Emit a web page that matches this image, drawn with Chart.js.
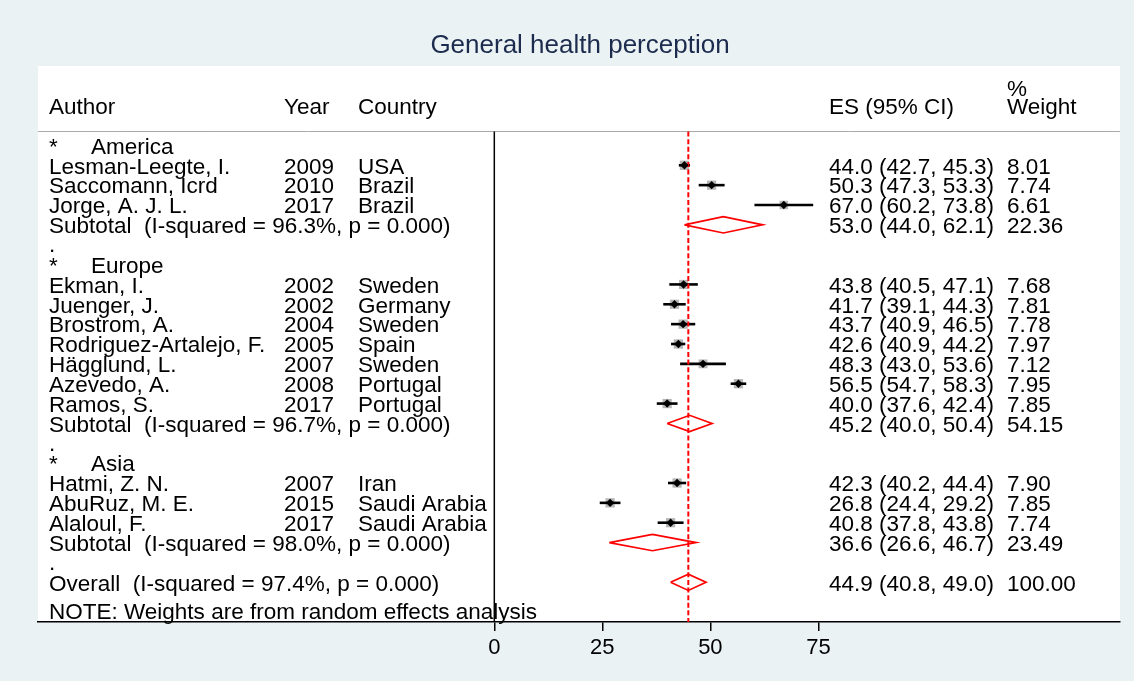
<!DOCTYPE html>
<html><head><meta charset="utf-8">
<script src="https://cdn.jsdelivr.net/npm/chart.js@4.4.1/dist/chart.umd.min.js"></script>
<style>html,body{margin:0;padding:0;background:#eaf2f3;} canvas{display:block}</style>
</head><body>
<canvas id="c" width="1134" height="681"></canvas>
<script>
// ---------- data ----------
const titleText = 'General health perception';
const regions = ['America', 'Europe', 'Asia'];
const authors = ['Lesman-Leegte, I.', 'Saccomann, Icrd', 'Jorge, A. J. L.',
  'Ekman, I.', 'Juenger, J.', 'Brostrom, A.', 'Rodriguez-Artalejo, F.', 'Hägglund, L.', 'Azevedo, A.', 'Ramos, S.',
  'Hatmi, Z. N.', 'AbuRuz, M. E.', 'Alaloul, F.'];
const years = [2009, 2010, 2017, 2002, 2002, 2004, 2005, 2007, 2008, 2017, 2007, 2015, 2017];
const countries = ['USA', 'Brazil', 'Brazil', 'Sweden', 'Germany', 'Sweden', 'Spain', 'Sweden', 'Portugal', 'Portugal',
  'Iran', 'Saudi Arabia', 'Saudi Arabia'];
const regionOf = [0, 0, 0, 1, 1, 1, 1, 1, 1, 1, 2, 2, 2];
const es = [44.0, 50.3, 67.0, 43.8, 41.7, 43.7, 42.6, 48.3, 56.5, 40.0, 42.3, 26.8, 40.8];
const lo = [42.7, 47.3, 60.2, 40.5, 39.1, 40.9, 40.9, 43.0, 54.7, 37.6, 40.2, 24.4, 37.8];
const hi = [45.3, 53.3, 73.8, 47.1, 44.3, 46.5, 44.2, 53.6, 58.3, 42.4, 44.4, 29.2, 43.8];
const weights = [8.01, 7.74, 6.61, 7.68, 7.81, 7.78, 7.97, 7.12, 7.95, 7.85, 7.90, 7.85, 7.74];
const subES = [53.0, 45.2, 36.6];
const subLo = [44.0, 40.0, 26.6];
const subHi = [62.1, 50.4, 46.7];
const subW = [22.36, 54.15, 23.49];
const subI2 = ['96.3', '96.7', '98.0'];
const overallES = 44.9, overallLo = 40.8, overallHi = 49.0, overallW = 100.00, overallI2 = '97.4';
const xTicks = [0, 25, 50, 75];

// ---------- row layout ----------
const rows = [];
let r = 0;
regions.forEach((reg, g) => {
  rows.push({ kind: 'head', row: r++, label: reg });
  regionOf.forEach((rg, i) => { if (rg === g) rows.push({ kind: 'study', row: r++, i }); });
  rows.push({ kind: 'sub', row: r++, g });
  rows.push({ kind: 'dot', row: r++ });
});
const overallRow = r;

const XMIN = -105.6, XMAX = 144.8, YMIN = -4, YMAX = 24, SEP = -0.7, DH = 0.41;
const studyRow = {};
rows.forEach(o => { if (o.kind === 'study') studyRow[o.i] = o.row; });
const subRow = {};
rows.forEach(o => { if (o.kind === 'sub') subRow[o.g] = o.row; });

const datasets = [];
// weight squares
datasets.push({
  type: 'scatter', order: 5,
  data: es.map((v, i) => ({ x: v, y: studyRow[i] })),
  pointStyle: 'rect',
  pointRadius: weights.map(w => 3.3 * Math.sqrt(w) / 1.414),
  pointBackgroundColor: '#b6b6b6', pointBorderWidth: 0, borderWidth: 0, showLine: false
});
// CI lines
es.forEach((v, i) => {
  datasets.push({
    type: 'line', order: 3,
    data: [{ x: lo[i], y: studyRow[i] }, { x: hi[i], y: studyRow[i] }],
    borderColor: '#000', borderWidth: 2.6, pointRadius: 0, fill: false
  });
});
// point estimates
datasets.push({
  type: 'scatter', order: 1,
  data: es.map((v, i) => ({ x: v, y: studyRow[i] })),
  pointStyle: 'rectRot', pointRadius: 4.2, pointBackgroundColor: '#000', pointBorderWidth: 0, showLine: false
});
// pooled diamonds
const diamond = (e, l, h, y) => [{ x: l, y }, { x: e, y: y - DH }, { x: h, y }, { x: e, y: y + DH }, { x: l, y }];
subES.forEach((v, g) => {
  datasets.push({
    type: 'line', order: 0, data: diamond(v, subLo[g], subHi[g], subRow[g]),
    borderColor: '#ff0000', borderWidth: 1.7, pointRadius: 0, fill: false, tension: 0
  });
});
datasets.push({
  type: 'line', order: 0, data: diamond(overallES, overallLo, overallHi, overallRow),
  borderColor: '#ff0000', borderWidth: 1.7, pointRadius: 0, fill: false, tension: 0
});
// reference lines
datasets.push({
  type: 'line', order: 2, data: [{ x: overallES, y: SEP }, { x: overallES, y: YMAX }],
  borderColor: '#ff0000', borderWidth: 2, borderDash: [5, 2.6], pointRadius: 0, fill: false
});
datasets.push({
  type: 'line', order: 6, data: [{ x: 0, y: SEP }, { x: 0, y: YMAX }],
  borderColor: '#000', borderWidth: 1.5, pointRadius: 0, fill: false
});
datasets.push({
  type: 'line', order: 7, data: [{ x: XMIN, y: SEP }, { x: XMAX, y: SEP }],
  borderColor: '#a9a9a9', borderWidth: 1, pointRadius: 0, fill: false
});

const FONT = '"Liberation Sans", Arial, sans-serif';
const bgPlugin = {
  id: 'bg',
  beforeDraw(chart) {
    const { ctx, chartArea: a } = chart;
    ctx.save();
    ctx.fillStyle = '#eaf2f3';
    ctx.fillRect(0, 0, chart.width, chart.height);
    ctx.fillStyle = '#ffffff';
    ctx.fillRect(a.left, a.top, a.right - a.left, a.bottom - a.top);
    ctx.restore();
  }
};
const textPlugin = {
  id: 'texts',
  afterDraw(chart) {
    const { ctx } = chart;
    const y = chart.scales.y;
    const yp = v => y.getPixelForValue(v);
    const BL = 8.3;
    ctx.save();
    ctx.fillStyle = '#1c2b4e';
    ctx.font = '26px ' + FONT;
    ctx.textAlign = 'center';
    ctx.textBaseline = 'alphabetic';
    ctx.fillText(titleText, 580, 53);
    ctx.textAlign = 'left';
    ctx.fillStyle = '#000';
    ctx.font = '22.5px ' + FONT;
    const cA = 49, cY = 284, cC = 358, cE = 829, cW = 1007;
    const t = (s, x, row) => ctx.fillText(s, x, yp(row) + BL);
    t('Author', cA, -2); t('Year', cY, -2); t('Country', cC, -2);
    t('ES (95% CI)', cE, -2); t('%', cW, -2.92); t('Weight', cW, -2);
    const ci = (e, l, h) => e.toFixed(1) + ' (' + l.toFixed(1) + ', ' + h.toFixed(1) + ')';
    rows.forEach(o => {
      if (o.kind === 'head') { t('*', cA, o.row); t(o.label, 91, o.row); }
      else if (o.kind === 'study') {
        const i = o.i;
        t(authors[i], cA, o.row); t(String(years[i]), cY, o.row); t(countries[i], cC, o.row);
        t(ci(es[i], lo[i], hi[i]), cE, o.row); t(weights[i].toFixed(2), cW, o.row);
      } else if (o.kind === 'sub') {
        const g = o.g;
        t('Subtotal  (I-squared = ' + subI2[g] + '%, p = 0.000)', cA, o.row);
        t(ci(subES[g], subLo[g], subHi[g]), cE, o.row); t(subW[g].toFixed(2), cW, o.row);
      } else if (o.kind === 'dot') { t('.', cA, o.row - 0.05); }
    });
    t('Overall  (I-squared = ' + overallI2 + '%, p = 0.000)', cA, overallRow);
    t(ci(overallES, overallLo, overallHi), cE, overallRow); t(overallW.toFixed(2), cW, overallRow);
    t('NOTE: Weights are from random effects analysis', cA, 23.45);
    ctx.restore();
  }
};

new Chart(document.getElementById('c'), {
  type: 'scatter',
  data: { datasets },
  options: {
    responsive: false, animation: false, devicePixelRatio: 1, events: [],
    layout: { padding: { left: 38, right: 14, top: 66, bottom: 0 } },
    plugins: { legend: { display: false }, tooltip: { enabled: false }, title: { display: false } },
    scales: {
      x: {
        type: 'linear', min: XMIN, max: XMAX,
        afterBuildTicks: s => { s.ticks = xTicks.map(v => ({ value: v })); },
        afterFit: s => { s.height = 59; },
        border: { display: true, color: '#000', width: 1.5 },
        grid: { drawOnChartArea: false, drawTicks: true, tickLength: 9, color: '#000', lineWidth: 1.5 },
        ticks: { color: '#000', font: { family: FONT, size: 22 }, padding: 4, maxRotation: 0, autoSkip: false }
      },
      y: { type: 'linear', min: YMIN, max: YMAX, reverse: true, display: false }
    }
  },
  plugins: [bgPlugin, textPlugin]
});
</script>
</body></html>
